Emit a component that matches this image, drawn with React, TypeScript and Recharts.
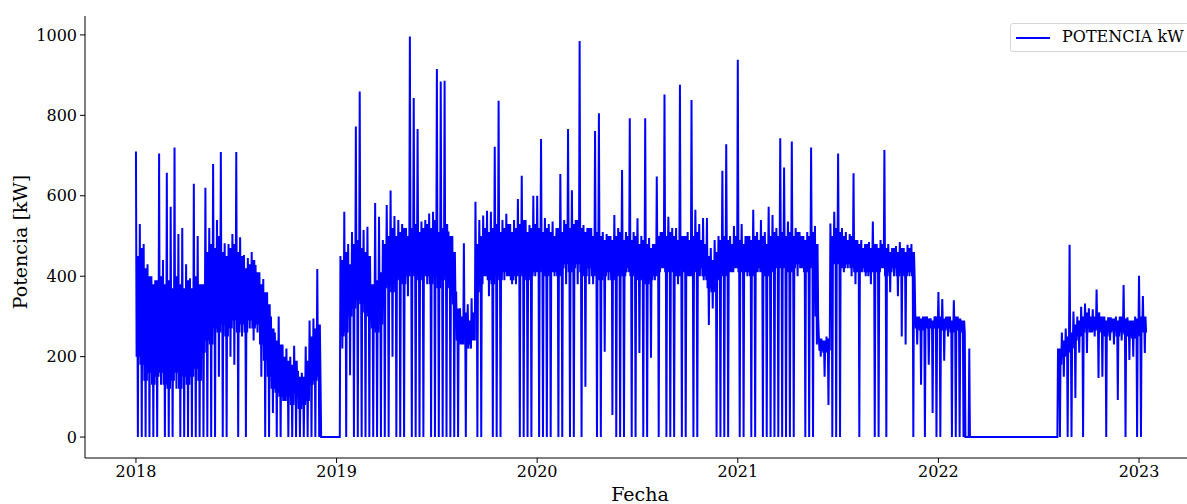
import { Line, LineChart, XAxis, YAxis } from "recharts";

// Weekly readings from the plot (kW): peak, dense-band top, dense-band bottom, dip
const picos2018 = [
  710, 530, 480, 430, 400, 390, 705, 440, 657, 573,
  720, 505, 520, 430, 395, 630, 500, 380, 620, 520,
  679, 540, 709, 482, 480, 505, 709, 497, 453, 445,
  460, 428, 410, 393, 360, 300, 260, 300, 230, 220,
  200, 227, 165, 160, 225, 290, 295, 418, 0, 0,
  0, 0,
];
const altos2018 = [
  450, 470, 420, 400, 380, 390, 400, 380, 390, 370,
  400, 380, 370, 390, 370, 400, 380, 420, 460, 480,
  470, 500, 460, 450, 470, 480, 460, 450, 420, 430,
  440, 410, 380, 360, 330, 270, 240, 230, 200, 190,
  180, 190, 150, 150, 190, 250, 270, 280, 0, 0,
  0, 0,
];
const bajos2018 = [
  200, 180, 140, 160, 130, 150, 160, 130, 120, 140,
  160, 120, 150, 130, 150, 170, 140, 210, 240, 230,
  270, 260, 280, 250, 270, 290, 260, 280, 260, 290,
  270, 280, 230, 190, 150, 120, 110, 100, 90, 100,
  80, 110, 70, 80, 90, 130, 140, 150, 0, 0,
  0, 0,
];
const valles2018 = [
  0, 0, 0, 0, 0, 0, 130, 0, 0, 0,
  120, 0, 0, 0, 0, 0, 0, 0, 0, 0,
  0, 150, 0, 0, 200, 180, 0, 250, 0, 270,
  240, 260, 150, 0, 0, 60, 0, 0, 90, 0,
  0, 0, 0, 0, 0, 0, 0, 0, 0, 0,
  0, 0,
];

const picos2019 = [
  0, 450, 560, 480, 510, 772, 859, 515, 523, 380,
  582, 548, 490, 577, 613, 550, 540, 530, 520, 996,
  843, 766, 536, 540, 556, 560, 915, 884, 886, 511,
  500, 362, 320, 482, 330, 345, 585, 540, 551, 563,
  560, 722, 836, 540, 555, 530, 540, 592, 650, 540,
  527, 600,
];
const altos2019 = [
  0, 440, 460, 430, 480, 490, 470, 460, 450, 400,
  390, 410, 480, 500, 520, 500, 510, 520, 500, 520,
  530, 510, 520, 530, 520, 540, 510, 520, 530, 500,
  460, 320, 300, 310, 290, 310, 480, 500, 520, 510,
  520, 530, 510, 520, 530, 510, 520, 530, 540, 510,
  520, 530,
];
const bajos2019 = [
  0, 250, 260, 300, 320, 340, 330, 310, 300, 270,
  260, 280, 370, 380, 360, 390, 400, 380, 400, 410,
  400, 390, 410, 400, 380, 400, 370, 390, 400, 370,
  330, 240, 230, 250, 220, 240, 360, 380, 400, 390,
  380, 400, 390, 410, 400, 390, 400, 410, 400, 390,
  400, 410,
];
const valles2019 = [
  0, 220, 0, 154, 0, 0, 0, 0, 0, 0,
  0, 0, 0, 0, 200, 0, 0, 0, 350, 0,
  0, 0, 0, 380, 0, 0, 0, 0, 0, 0,
  0, 0, 230, 0, 230, 240, 0, 0, 400, 350,
  0, 0, 0, 390, 400, 380, 380, 0, 0, 0,
  0, 400,
];

const picos2020 = [
  600, 741, 545, 530, 536, 520, 654, 540, 766, 614,
  540, 985, 527, 520, 520, 761, 805, 510, 505, 500,
  552, 520, 664, 510, 793, 510, 544, 500, 793, 495,
  480, 648, 510, 852, 548, 520, 520, 876, 500, 510,
  838, 565, 530, 545, 545, 470, 490, 500, 662, 728,
  500, 525,
];
const altos2020 = [
  520, 510, 520, 510, 500, 520, 510, 530, 520, 530,
  540, 520, 510, 520, 500, 510, 500, 490, 500, 490,
  500, 510, 490, 500, 490, 500, 480, 490, 480, 470,
  480, 500, 510, 500, 510, 500, 490, 500, 510, 490,
  500, 510, 490, 480, 450, 440, 460, 490, 500, 490,
  480, 500,
];
const bajos2020 = [
  410, 420, 400, 420, 410, 400, 420, 430, 410, 420,
  430, 410, 400, 420, 400, 410, 390, 400, 410, 390,
  400, 420, 400, 410, 400, 420, 390, 400, 380, 390,
  400, 410, 420, 410, 420, 410, 400, 420, 410, 400,
  410, 420, 400, 390, 370, 360, 390, 410, 400, 420,
  410, 420,
];
const valles2020 = [
  0, 0, 0, 0, 400, 0, 0, 380, 0, 0,
  380, 0, 125, 380, 380, 0, 0, 212, 390, 55,
  0, 0, 0, 420, 0, 0, 209, 0, 0, 197,
  390, 0, 420, 0, 0, 0, 380, 0, 0, 400,
  0, 0, 420, 400, 279, 320, 0, 0, 0, 0,
  410, 420,
];

const picos2021 = [
  938, 530, 500, 500, 565, 510, 540, 510, 573, 552,
  520, 743, 670, 536, 735, 520, 510, 500, 510, 720,
  525, 249, 240, 250, 531, 560, 705, 520, 510, 505,
  656, 490, 490, 480, 485, 536, 480, 490, 714, 480,
  470, 475, 485, 470, 478, 480, 305, 300, 300, 300,
  295, 300,
];
const altos2021 = [
  490, 480, 500, 490, 500, 490, 500, 480, 500, 510,
  500, 510, 500, 510, 500, 510, 500, 490, 500, 510,
  480, 245, 240, 245, 500, 520, 510, 500, 490, 500,
  490, 480, 470, 480, 470, 480, 470, 480, 470, 460,
  470, 460, 470, 460, 470, 460, 300, 295, 300, 295,
  290, 300,
];
const bajos2021 = [
  410, 420, 410, 400, 420, 410, 420, 400, 410, 420,
  430, 420, 430, 410, 420, 430, 420, 410, 420, 430,
  300, 215, 210, 215, 430, 440, 430, 420, 430, 420,
  410, 420, 410, 400, 410, 420, 410, 420, 400, 410,
  420, 400, 410, 400, 410, 400, 270, 265, 270, 275,
  270, 275,
];
const valles2021 = [
  0, 0, 400, 0, 0, 420, 0, 0, 0, 0,
  0, 0, 0, 0, 0, 400, 420, 0, 0, 0,
  230, 200, 150, 80, 0, 0, 0, 410, 420, 400,
  380, 0, 420, 410, 380, 0, 0, 420, 0, 360,
  400, 350, 250, 230, 400, 0, 230, 130, 0, 180,
  60, 0,
];

const picos2022 = [
  361, 343, 300, 300, 340, 300, 290, 0, 220, 0,
  0, 0, 0, 0, 0, 0, 0, 0, 0, 0,
  0, 0, 0, 0, 0, 0, 0, 0, 0, 0,
  0, 220, 260, 270, 478, 312, 300, 324, 332, 320,
  318, 367, 300, 300, 298, 295, 300, 300, 378, 298,
  290, 300, 401, 351,
];
const altos2022 = [
  300, 295, 300, 290, 300, 295, 290, 0, 0, 0,
  0, 0, 0, 0, 0, 0, 0, 0, 0, 0,
  0, 0, 0, 0, 0, 0, 0, 0, 0, 0,
  0, 220, 240, 250, 260, 280, 290, 300, 310, 300,
  300, 310, 300, 290, 300, 295, 290, 300, 295, 290,
  290, 295, 300, 300,
];
const bajos2022 = [
  270, 265, 270, 260, 270, 265, 260, 0, 0, 0,
  0, 0, 0, 0, 0, 0, 0, 0, 0, 0,
  0, 0, 0, 0, 0, 0, 0, 0, 0, 0,
  0, 180, 200, 210, 220, 240, 250, 260, 270, 260,
  265, 270, 260, 250, 260, 265, 250, 260, 255, 250,
  245, 250, 260, 260,
];
const valles2022 = [
  0, 190, 250, 0, 0, 0, 0, 0, 0, 0,
  0, 0, 0, 0, 0, 0, 0, 0, 0, 0,
  0, 0, 0, 0, 0, 0, 0, 0, 0, 0,
  0, 0, 150, 0, 0, 97, 210, 0, 209, 260,
  250, 147, 150, 0, 240, 230, 92, 240, 0, 192,
  200, 0, 0, 209,
];

const anios = [2018, 2019, 2020, 2021, 2022];
const picos = [picos2018, picos2019, picos2020, picos2021, picos2022];
const altos = [altos2018, altos2019, altos2020, altos2021, altos2022];
const bajos = [bajos2018, bajos2019, bajos2020, bajos2021, bajos2022];
const valles = [valles2018, valles2019, valles2020, valles2021, valles2022];

const ticksFecha = [2018, 2019, 2020, 2021, 2022, 2023];
const ticksPotencia = [0, 200, 400, 600, 800, 1000];

// six readings per week: peak, band, band, dip, band, band
const datos = anios.flatMap((anio, i) =>
  picos[i].flatMap((p, w) => {
    const alto = Math.min(altos[i][w], p);
    const bajo = Math.min(bajos[i][w], p);
    const serie = [p, bajo, alto, valles[i][w], alto, bajo];
    return serie.map((potencia, k) => ({
      t: anio + (w + k / 6) / 52,
      potencia,
    }));
  })
);

const FONT = "'DejaVu Serif', serif";
const tickStyle = { fill: "#000", fontSize: 16, fontFamily: FONT };

export default function App() {
  return (
    <div
      style={{
        position: "relative",
        width: 1187,
        height: 504,
        overflow: "hidden",
        background: "#fff",
        fontFamily: FONT,
      }}
    >
      <style>{`body{margin:0}`}</style>
      <LineChart
        width={1215}
        height={504}
        data={datos}
        margin={{ top: 16, right: 20, bottom: 16, left: 25 }}
      >
        <XAxis
          dataKey="t"
          type="number"
          domain={[2017.746, 2023.279]}
          allowDataOverflow
          ticks={ticksFecha}
          tickFormatter={(v: number) => String(v)}
          height={30}
          tickSize={5}
          tickMargin={3}
          tick={tickStyle}
          axisLine={{ stroke: "#000", strokeWidth: 1 }}
          tickLine={{ stroke: "#000" }}
        />
        <XAxis
          xAxisId="top"
          orientation="top"
          dataKey="t"
          type="number"
          domain={[2017.746, 2023.279]}
          height={0}
          tick={false}
          tickLine={false}
          axisLine={{ stroke: "#000", strokeWidth: 1 }}
        />
        <YAxis
          type="number"
          domain={[-52, 1047]}
          allowDataOverflow
          ticks={ticksPotencia}
          width={60}
          tickSize={5}
          tickMargin={3}
          tick={tickStyle}
          axisLine={{ stroke: "#000", strokeWidth: 1 }}
          tickLine={{ stroke: "#000" }}
        />
        <Line
          type="linear"
          dataKey="potencia"
          stroke="#0000ff"
          strokeWidth={2}
          dot={false}
          isAnimationActive={false}
        />
      </LineChart>

      <div
        style={{
          position: "absolute",
          left: 20,
          top: 242,
          transform: "translate(-50%, -50%) rotate(-90deg)",
          fontSize: 19,
          whiteSpace: "nowrap",
          color: "#000",
        }}
      >
        Potencia [kW]
      </div>
      <div
        style={{
          position: "absolute",
          left: 640,
          top: 483,
          transform: "translateX(-50%)",
          fontSize: 19,
          color: "#000",
        }}
      >
        Fecha
      </div>

      <div
        style={{
          position: "absolute",
          left: 1010,
          top: 23,
          width: 190,
          height: 29,
          border: "1px solid #d6d6d6",
          borderRadius: 3,
          background: "rgba(255,255,255,0.8)",
          boxSizing: "border-box",
        }}
      >
        <div
          style={{
            position: "absolute",
            left: 5,
            top: 13,
            width: 34,
            height: 2,
            background: "#0000ff",
          }}
        />
        <div
          style={{
            position: "absolute",
            left: 51,
            top: 3,
            fontSize: 16,
            lineHeight: "20px",
            whiteSpace: "nowrap",
            color: "#000",
          }}
        >
          POTENCIA kW
        </div>
      </div>
    </div>
  );
}
